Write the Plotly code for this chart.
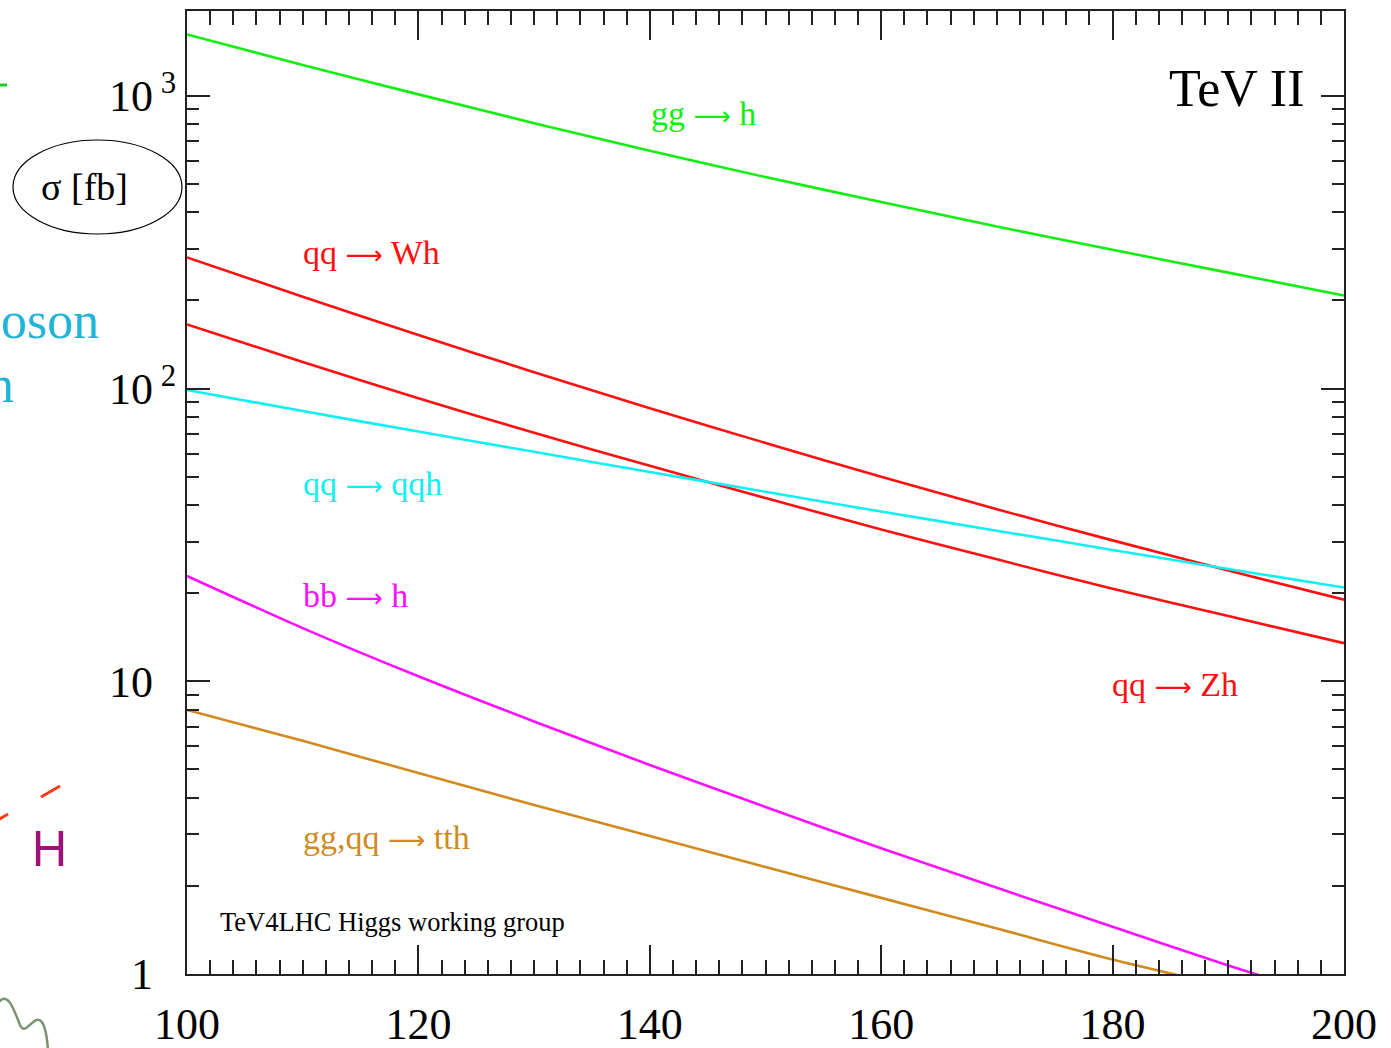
import plotly.graph_objects as go

# Higgs boson production cross sections at the Tevatron Run II
mass = [100, 110, 120, 130, 140, 150, 160, 170, 180, 190, 200]
gg_h = [1622, 1276, 1012, 807, 650, 528, 434, 358, 298, 249, 208]
qq_wh = [280.5, 206, 152.4, 113.8, 85.7, 65.2, 50.0, 38.7, 30.3, 23.9, 19.0]
qq_zh = [165.6, 123.3, 92.7, 70.6, 54.5, 42.3, 33.0, 26.1, 20.7, 16.7, 13.5]
qq_qqh = [98.9, 83.8, 71.3, 60.8, 51.9, 44.4, 38.0, 32.7, 28.1, 24.2, 20.9]
bb_h = [22.9, 15.2, 10.4, 7.29, 5.18, 3.72, 2.69, 1.97, 1.45, 1.07, 0.80]
tth = [7.98, 6.26, 4.86, 3.78, 2.96, 2.32, 1.82, 1.43, 1.12, 0.90, 0.71]

series_names = ["gg → h", "qq → Wh", "qq → Zh", "qq → qqh", "bb → h", "gg,qq → tth"]
series_values = [gg_h, qq_wh, qq_zh, qq_qqh, bb_h, tth]
series_colors = ["#12ee12", "#ff1010", "#ff1010", "#10f0f0", "#ff10ff", "#d08a1e"]

x_ticks = [100, 120, 140, 160, 180, 200]
y_ticks = [1, 10, 100, 1000]
y_exponents = ["", "", "2", "3"]

W, H = 1391, 1048
L, R, T, B = 187, 1344, 11, 974
SERIF = "Liberation Serif, Times New Roman, serif"
ARROW = "<span style='font-family:DejaVu Sans;font-size:26px'>⟶</span>"
CLEAR = "rgba(0,0,0,0)"


def px(x):
    return (x - L) / (R - L)


def py(y):
    return (B - y) / (B - T)


def decade_label(v, e):
    # keep every mantissa right-aligned; plain labels get an invisible exponent
    base = "1" if v == 1 else "10"
    if e:
        return base + "<sup> " + e + "</sup>"
    return base + "<sup><span style='color:" + CLEAR + "'> 3</span></sup>"


y_ticktext = [decade_label(v, e) for v, e in zip(y_ticks, y_exponents)]

fig = go.Figure()
for name, vals, col in zip(series_names, series_values, series_colors):
    fig.add_trace(go.Scatter(x=mass, y=vals, mode="lines", name=name,
                             line=dict(color=col, width=2.6, shape="spline", smoothing=0.8),
                             showlegend=False))

# process labels placed beside each curve (pixel centres)
labels = [
    ("gg " + ARROW + " h", 703, 114, "#12ee12", 34),
    ("qq " + ARROW + " Wh", 371, 253, "#ff1010", 34),
    ("qq " + ARROW + " qqh", 372, 483, "#10f0f0", 34),
    ("bb " + ARROW + " h", 355, 595, "#ff10ff", 34),
    ("gg,qq " + ARROW + " tth", 386, 837, "#d08a1e", 34),
    ("qq " + ARROW + " Zh", 1175, 684, "#ff1010", 34),
    ("TeV II", 1236, 88, "black", 52),
    ("TeV4LHC Higgs working group", 392, 922, "black", 26.5),
]
annotations = []
for text, x, y, col, size in labels:
    annotations.append(dict(text=text, x=px(x), y=py(y), xref="paper", yref="paper",
                            showarrow=False, xanchor="center", yanchor="middle",
                            font=dict(family=SERIF, size=size, color=col)))

# axis title inside an ellipse and slide fragments at the left edge
annotations.append(dict(text="σ [fb]", x=px(84), y=py(187), xref="paper", yref="paper",
                        showarrow=False, xanchor="center", yanchor="middle",
                        font=dict(family=SERIF, size=38, color="black")))
annotations.append(dict(text="boson", x=px(101), y=py(320), xref="paper", yref="paper",
                        showarrow=False, xanchor="right", yanchor="middle",
                        font=dict(family=SERIF, size=52, color="#22b4d8")))
annotations.append(dict(text="n", x=px(16), y=py(385), xref="paper", yref="paper",
                        showarrow=False, xanchor="right", yanchor="middle",
                        font=dict(family=SERIF, size=52, color="#22b4d8")))
annotations.append(dict(text="H", x=px(49), y=py(847), xref="paper", yref="paper",
                        showarrow=False, xanchor="center", yanchor="middle",
                        font=dict(family="Noto Sans, DejaVu Sans, sans-serif", size=50,
                                  color="#9b1272")))

shapes = [
    dict(type="circle", xref="paper", yref="paper", x0=px(13), x1=px(182), y0=py(140), y1=py(234),
         line=dict(color="black", width=1.2)),
    dict(type="line", xref="paper", yref="paper", x0=px(-2), x1=px(7), y0=py(85), y1=py(85),
         line=dict(color="#1ecc1e", width=3)),
    dict(type="line", xref="paper", yref="paper", x0=px(-2), x1=px(8), y0=py(820), y1=py(814),
         line=dict(color="#ff3a1a", width=3)),
    dict(type="line", xref="paper", yref="paper", x0=px(41), x1=px(60), y0=py(797), y1=py(786),
         line=dict(color="#ff3a1a", width=3)),
    dict(type="path", xref="paper", yref="paper",
         path=("M {},{} C {},{} {},{} {},{} C {},{} {},{} {},{} C {},{} {},{} {},{}").format(
             px(-2), py(1003), px(8), py(990), px(14), py(1010), px(20), py(1025),
             px(26), py(1038), px(34), py(1012), px(42), py(1022),
             px(47), py(1030), px(47), py(1040), px(48), py(1050)),
         line=dict(color="#7d9470", width=2.5)),
]

axis_common = dict(showgrid=False, zeroline=False, showline=True, linecolor="#222",
                   linewidth=2, mirror="allticks", ticks="inside", tickcolor="#222",
                   tickwidth=1.6, automargin=False)

fig.update_layout(
    width=W, height=H,
    margin=dict(l=L, r=W - R, t=T, b=H - B),
    paper_bgcolor="white", plot_bgcolor="white",
    xaxis=dict(range=[100, 200], tickvals=x_ticks, ticklen=29, ticklabelstandoff=10,
               tickfont=dict(family=SERIF, size=44, color="black"),
               minor=dict(dtick=2, ticks="inside", ticklen=14, tickcolor="#222", tickwidth=1.6),
               **axis_common),
    yaxis=dict(type="log", range=[0, 3.29], tickvals=y_ticks, ticktext=y_ticktext, ticklen=23,
               tickfont=dict(family=SERIF, size=44, color="black"),
               minor=dict(dtick="D1", ticks="inside", ticklen=12, tickcolor="#222", tickwidth=1.6),
               **axis_common),
    annotations=annotations,
    shapes=shapes,
)

fig.write_html("out.html")
